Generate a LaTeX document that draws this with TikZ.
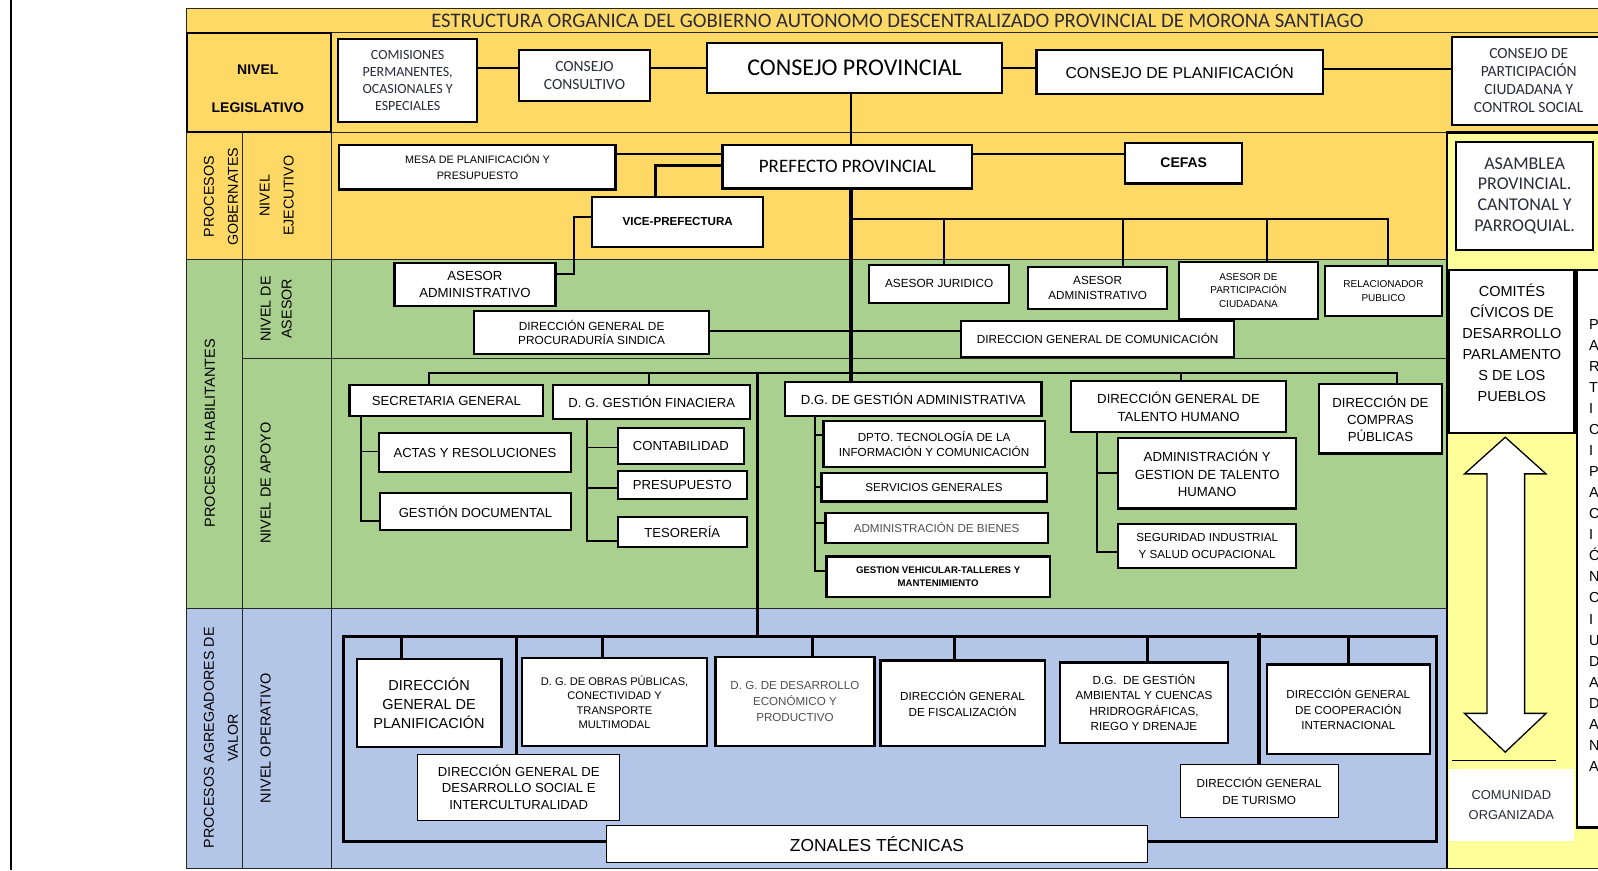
\documentclass[tikz,border=0pt]{standalone}
\usepackage{fontspec}
\setmainfont{Liberation Sans}
\newfontfamily\calfont{Carlito}
\definecolor{yel}{HTML}{FFD966}
\definecolor{grn}{HTML}{A9D08E}
\definecolor{blu}{HTML}{B4C6E7}
\definecolor{lyel}{HTML}{FFFF99}
\definecolor{gtxt}{HTML}{505050}
\definecolor{ntxt}{HTML}{2A2A3A}
\newcommand\myk{1.01913}
\newcommand\fsz[2]{\fontsize{#1}{#2}\selectfont}
\newcommand\obox[7]{\node[box,minimum width={(#4-#2)*\myk},minimum height={(#5-#3)*\myk},#6] (#1) at ({(#2+#4)/2},{(#3+#5)/2}) {#7};}
\begin{document}
\begin{tikzpicture}[x=1.01913pt,y=-1.01913pt,
  box/.style={draw,line width=2.2pt,fill=white,align=center,inner sep=0pt},
  tbox/.style={line width=1.2pt},
  conn/.style={line width=1.8pt},
  tconn/.style={line width=3pt},
  grid/.style={line width=1pt,draw=black!85},
  lab/.style={align=center,inner sep=0pt},
]
\useasboundingbox[fill=white] (0,0) rectangle (1568,853.67);
% bands
\fill[yel] (183,8) rectangle (1568,130);
\fill[yel] (183,130) rectangle (1420,255);
\fill[grn] (183,255) rectangle (1420,597);
\fill[blu] (183,597) rectangle (1420,852);
\fill[lyel] (1420,130) rectangle (1568,852);
% grid
\draw[grid] (1568,8) -- (183,8) -- (183,852) -- (1568,852);
\draw[grid] (183,32) -- (1568,32);
\draw[grid] (325,130) -- (1420,130);
\draw[grid] (183,255) -- (1420,255);
\draw[grid] (238,352) -- (1420,352);
\draw[grid] (183,597) -- (1420,597);
\draw[grid] (238,130) -- (238,852);
\draw[grid] (325,130) -- (325,852);
\draw[line width=2pt] (183,32) rectangle (325,130);
\draw[line width=2.4pt] (1420,852) -- (1420,130) -- (1568,130);
\draw[line width=2.5pt] (11,0) -- (11,853.67);
% title and row labels
\node[font=\calfont\fsz{20.7}{24},text=ntxt] (title) at (880.5,20) {ESTRUCTURA ORGANICA DEL GOBIERNO AUTONOMO DESCENTRALIZADO PROVINCIAL DE MORONA SANTIAGO};
\node[lab,font=\bfseries\fsz{14}{38}] (nleg) at (253,87) {NIVEL\\LEGISLATIVO};
\node[lab,rotate=90,font=\fsz{14.3}{24}] (pg) at (216.7,193) {PROCESOS\\GOBERNATES};
\node[lab,rotate=90,font=\fsz{14.3}{24}] (ne) at (271.5,192) {NIVEL\\EJECUTIVO};
\node[lab,rotate=90,font=\fsz{14.5}{24}] (ph) at (206,425) {PROCESOS HABILITANTES};
\node[lab,rotate=90,font=\fsz{14.3}{21}] (na) at (271,303) {NIVEL DE\\ASESOR};
\node[lab,rotate=90,font=\fsz{14.5}{24}] (nap) at (260.7,474) {NIVEL DE APOYO};
\node[lab,rotate=90,font=\fsz{14.3}{24}] (pa) at (216.7,724) {PROCESOS AGREGADORES DE\\VALOR};
\node[lab,rotate=90,font=\fsz{14.5}{24}] (no) at (260.7,724.5) {NIVEL OPERATIVO};
% helper coordinates
\coordinate (vx) at (835,0);
\coordinate (h1) at (0,66.5);
\coordinate (h2) at (0,68);
\coordinate (h3) at (0,151);
\coordinate (h4) at (0,162);
\coordinate (vvice) at (643,0);
\coordinate (h5) at (0,213);
\coordinate (v5) at (563,0);
\coordinate (h6) at (0,269);
\coordinate (h8) at (0,325);
\coordinate (dj) at (926,215);
\coordinate (dad) at (1102,215);
\coordinate (dpa) at (1243,215);
\coordinate (dre) at (1362,215);
\coordinate (hx) at (835,215);
\coordinate (s1) at (421,366);
\coordinate (s2) at (637,366);
\coordinate (s3) at (1159,366);
\coordinate (s4) at (1371,366);
\coordinate (jA) at (743,366);
\coordinate (jB) at (743,625);
\coordinate (b1) at (354.5,0);
\coordinate (b2) at (576,0);
\coordinate (b3) at (800,0);
\coordinate (b4) at (1076,0);
\coordinate (fTL) at (337,625);
\coordinate (fBR) at (1410,826);
\coordinate (o1) at (394,625);
\coordinate (o2) at (591,625);
\coordinate (o3) at (797,625);
\coordinate (o4) at (937,625);
\coordinate (o5) at (1126,625);
\coordinate (o6) at (1323,625);
\coordinate (o7) at (507,625);
\coordinate (o8) at (1235,621);
% boxes row 1
\obox{comis}{332}{38}{468}{120}{font=\calfont\fsz{14}{16.7},text=ntxt}{COMISIONES\\PERMANENTES,\\OCASIONALES Y\\ESPECIALES}
\obox{consul}{509}{49}{638}{99}{font=\calfont\fsz{15.5}{17.3},text=ntxt}{CONSEJO\\CONSULTIVO}
\obox{cprov}{694}{42}{983}{91}{font=\calfont\fsz{24}{28}}{CONSEJO PROVINCIAL}
\obox{cplan}{1017}{49}{1298}{92}{font=\fsz{15.8}{18}}{CONSEJO DE PLANIFICACIÓN}
\obox{cpart}{1425}{36}{1575}{123}{font=\calfont\fsz{15.5}{18},text=ntxt}{CONSEJO DE\\PARTICIPACIÓN\\CIUDADANA Y\\CONTROL SOCIAL}
% row 2
\obox{mesa}{333}{142}{604}{186}{font=\fsz{10.8}{15.7}}{MESA DE PLANIFICACIÓN Y\\PRESUPUESTO}
\obox{pref}{709}{142}{954}{185}{font=\calfont\fsz{19}{22}}{PREFECTO PROVINCIAL}
\obox{cefas}{1104}{140}{1219}{180}{font=\bfseries\fsz{14}{16}}{CEFAS}
\obox{vice}{581}{193}{749}{242}{font=\bfseries\fsz{11.6}{14}}{VICE-PREFECTURA}
\obox{asam}{1429}{139}{1563}{245}{font=\calfont\fsz{18}{20.7},text=ntxt}{ASAMBLEA\\PROVINCIAL.\\CANTONAL Y\\PARROQUIAL.}
% row 3
\obox{aadm1}{387}{258}{545}{300}{font=\fsz{13.2}{16.7}}{ASESOR\\ADMINISTRATIVO}
\obox{procur}{465}{305}{696}{347}{font=\fsz{11.8}{14.3}}{DIRECCIÓN GENERAL DE\\PROCURADURÍA SINDICA}
\obox{ajur}{853}{260}{990}{297}{font=\fsz{11.8}{14}}{ASESOR JURIDICO}
\obox{aadm2}{1009}{262}{1145}{303}{font=\fsz{11.7}{15.7}}{ASESOR\\ADMINISTRATIVO}
\obox{apart}{1157}{257}{1293}{313}{font=\fsz{10}{13.7}}{ASESOR DE\\PARTICIPACIÓN\\CIUDADANA}
\obox{rel}{1300}{261}{1415}{310}{font=\fsz{10}{14.3}}{RELACIONADOR\\PUBLICO}
\obox{com}{943}{315}{1211}{350}{font=\fsz{11.75}{14}}{DIRECCION GENERAL DE COMUNICACIÓN}
% row 4
\obox{sec}{343}{378}{533}{408}{font=\fsz{13.1}{15}}{SECRETARIA GENERAL}
\obox{fin}{543}{378}{736}{411}{font=\fsz{13.1}{15}}{D. G. GESTIÓN FINACIERA}
\obox{dga}{770}{375}{1022}{408}{font=\fsz{13.2}{15}}{D.G. DE GESTIÓN ADMINISTRATIVA}
\obox{th}{1051}{374}{1262}{424}{font=\fsz{13.2}{17.7}}{DIRECCIÓN GENERAL DE\\TALENTO HUMANO}
\obox{comp}{1294}{377}{1415}{445}{font=\fsz{13.2}{17.3}}{DIRECCIÓN DE\\COMPRAS\\PÚBLICAS}
\obox{actas}{372}{425}{560}{463}{font=\fsz{13.1}{15}}{ACTAS Y RESOLUCIONES}
\obox{gdoc}{373}{484}{560}{520}{font=\fsz{13.1}{15}}{GESTIÓN DOCUMENTAL}
\obox{cont}{606}{420}{730}{455}{font=\fsz{13.1}{15}}{CONTABILIDAD}
\obox{pres}{606}{462}{733}{490}{font=\fsz{13.1}{15}}{PRESUPUESTO}
\obox{tes}{606}{507}{733}{537}{font=\fsz{13.1}{15}}{TESORERÍA}
\obox{dpto}{808}{413}{1025}{458}{font=\fsz{11.7}{15.5}}{DPTO. TECNOLOGÍA DE LA\\INFORMACIÓN Y COMUNICACIÓN}
\obox{serv}{806}{464}{1027}{492}{font=\fsz{11.6}{14}}{SERVICIOS GENERALES}
\obox{bien}{810}{503}{1028}{533}{font=\fsz{11.6}{14},text=gtxt}{ADMINISTRACIÓN DE BIENES}
\obox{gveh}{811}{546}{1030}{586}{font=\bfseries\fsz{9.6}{13.3}}{GESTION VEHICULAR-TALLERES Y\\MANTENIMIENTO}
\obox{ath}{1097}{430}{1272}{499}{font=\fsz{13.2}{17.7}}{ADMINISTRACIÓN Y\\GESTION DE TALENTO\\HUMANO}
\obox{seg}{1097}{514}{1272}{557}{font=\fsz{11.65}{16.7}}{SEGURIDAD INDUSTRIAL\\Y SALUD OCUPACIONAL}
% connectors
\draw[conn] (comis.east |- h1) -- (consul.west |- h1);
\draw[conn] (consul.east |- h1) -- (cprov.west |- h1);
\draw[conn] (cprov.east |- h1) -- (cplan.west |- h1);
\draw[conn] (cplan.east |- h2) -- (cpart.west |- h2);
\draw[conn] (cprov.south -| vx) -- (pref.north -| vx);
\draw[conn] (mesa.east |- h3) -- (pref.west |- h3);
\draw[conn] (pref.east |- h3) -- (cefas.west |- h3);
\draw[tconn] (pref.west |- h4) -| (vice.north -| vvice);
\draw[conn] (vice.west |- h5) -| (v5 |- h6) -- (aadm1.east |- h6);
\draw[line width=4pt] (pref.south -| vx) -- (dga.north -| vx);
\draw[conn] (hx) -- (dre) -- (rel.north -| dre);
\draw[conn] (dj) -- (ajur.north -| dj);
\draw[conn] (dad) -- (aadm2.north -| dad);
\draw[conn] (dpa) -- (apart.north -| dpa);
\draw[conn] (procur.east |- h8) -- (com.west |- h8);
\draw[conn] (sec.north -| s1) -- (s1) -- (s4) -- (comp.north -| s4);
\draw[conn] (s2) -- (fin.north -| s2);
\draw[conn] (s3) -- (th.north -| s3);
\draw[tconn] (jA) -- (jB);
\draw[conn] (sec.south -| b1) |- (gdoc.west |- {(0,511)});
\draw[conn] (b1 |- {(0,443)}) -- (actas.west |- {(0,443)});
\draw[conn] (fin.south -| b2) |- (tes.west |- {(0,530.5)});
\draw[conn] (b2 |- {(0,439)}) -- (cont.west |- {(0,439)});
\draw[conn] (b2 |- {(0,479)}) -- (pres.west |- {(0,479)});
\draw[conn] (dga.south -| b3) |- (gveh.west |- {(0,560)});
\draw[conn] (b3 |- {(0,427)}) -- (dpto.west |- {(0,427)});
\draw[conn] (b3 |- {(0,477.5)}) -- (serv.west |- {(0,477.5)});
\draw[conn] (b3 |- {(0,513)}) -- (bien.west |- {(0,513)});
\draw[conn] (th.south -| b4) |- (seg.west |- {(0,542)});
\draw[conn] (b4 |- {(0,464)}) -- (ath.west |- {(0,464)});
\draw[tconn] (fTL) rectangle (fBR);
% row 5
\obox{plan}{350}{647}{492}{733}{font=\fsz{14.5}{19}}{DIRECCIÓN\\GENERAL DE\\PLANIFICACIÓN}
\obox{obras}{512}{646}{694}{732}{font=\fsz{11.1}{14.4}}{D. G. DE OBRAS PÚBLICAS,\\CONECTIVIDAD Y\\TRANSPORTE\\MULTIMODAL}
\obox{desec}{702}{645}{858}{732}{font=\fsz{11.6}{16.2},text=gtxt}{D. G. DE DESARROLLO\\ECONÓMICO Y\\PRODUCTIVO}
\obox{fisc}{864}{648}{1025}{732}{font=\fsz{11.7}{15.7}}{DIRECCIÓN GENERAL\\DE FISCALIZACIÓN}
\obox{amb}{1040}{650}{1205}{729}{font=\fsz{11.7}{15.5}}{D.G.\ \ DE GESTIÓN\\AMBIENTAL Y CUENCAS\\HRIDROGRÁFICAS,\\RIEGO Y DRENAJE}
\obox{coop}{1243}{652}{1403}{740}{font=\fsz{11.6}{15.3}}{DIRECCIÓN GENERAL\\DE COOPERACIÓN\\INTERNACIONAL}
\obox{desoc}{410}{740}{608}{805}{tbox,font=\fsz{13.1}{16.7}}{DIRECCIÓN GENERAL DE\\DESARROLLO SOCIAL E\\INTERCULTURALIDAD}
\obox{tur}{1158}{750}{1313}{802}{tbox,font=\fsz{11.7}{16.3}}{DIRECCIÓN GENERAL\\DE TURISMO}
\obox{zon}{595}{810}{1126}{846}{tbox,font=\fsz{17.4}{20}}{ZONALES TÉCNICAS}
\draw[tconn] (o1) -- (plan.north -| o1);
\draw[tconn] (o2) -- (obras.north -| o2);
\draw[tconn] (o3) -- (desec.north -| o3);
\draw[tconn] (o4) -- (fisc.north -| o4);
\draw[tconn] (o5) -- (amb.north -| o5);
\draw[tconn] (o6) -- (coop.north -| o6);
\draw[tconn] (o7) -- (desoc.north -| o7);
\draw[line width=4pt] (o8) -- (tur.north -| o8);
% right column
\obox{comit}{1422}{265}{1545}{425}{}{}
\node[lab,font=\fsz{14.5}{20.9}] (comtxt) at (1483.5,336.5) {COMITÉS\\CÍVICOS DE\\DESARROLLO\\PARLAMENTO\\S DE LOS\\PUEBLOS};
\obox{partc}{1547}{265}{1600}{812}{}{}
\node[anchor=north west,inner sep=0pt,align=left,font=\fsz{14.5}{21.06}] (pcl) at (1559,313) {P\\A\\R\\T\\I\\C\\I\\P\\A\\C\\I\\Ó\\N\\C\\I\\U\\D\\A\\D\\A\\N\\A};
\draw[line width=1.3pt,fill=white] (1477,429) -- (1517,465) -- (1496,465) -- (1496,700) -- (1517,700) -- (1477,738) -- (1437,700) -- (1459,700) -- (1459,465) -- (1437,465) -- cycle;
\draw[line width=1pt] (1425,746) -- (1527,746);
\obox{comun}{1422}{755}{1544}{825}{draw=none,font=\fsz{12.9}{19.3},text=ntxt}{COMUNIDAD\\ORGANIZADA}
\end{tikzpicture}
\end{document}
